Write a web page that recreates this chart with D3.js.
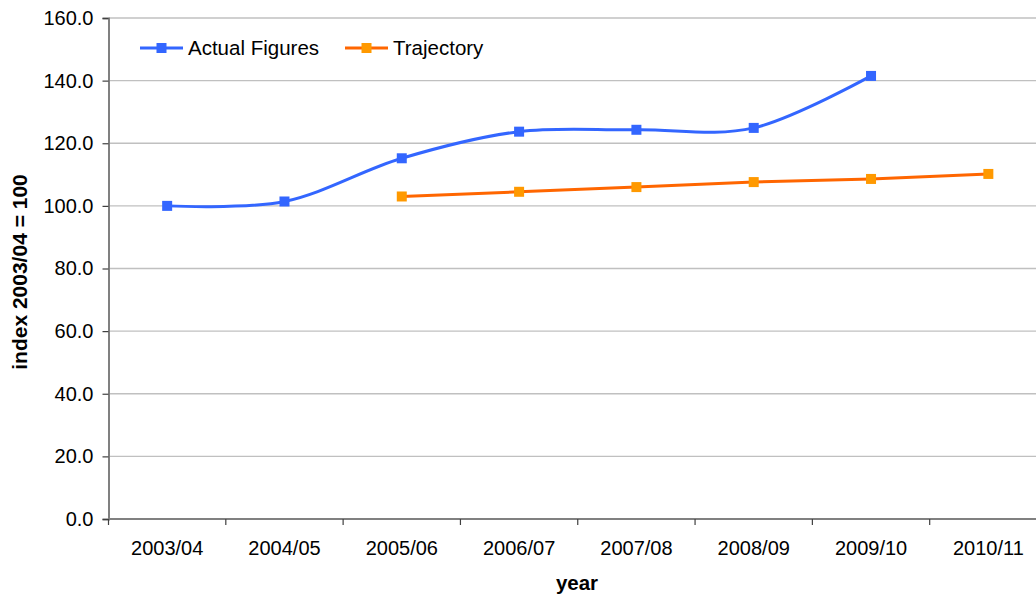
<!DOCTYPE html>
<html>
<head>
<meta charset="utf-8">
<script src="https://cdn.jsdelivr.net/npm/d3@7"></script>
<style>
html,body{margin:0;padding:0;background:#fff;overflow:hidden;}
svg{display:block;font-family:"Liberation Sans",Arial,sans-serif;}
</style>
</head>
<body>
<svg id="chart" width="1036" height="599"></svg>
<script>
const categories = ["2003/04","2004/05","2005/06","2006/07","2007/08","2008/09","2009/10","2010/11"];
const actualFigures = [100.0, 101.4, 115.2, 123.7, 124.3, 124.9, 141.5, null];
const trajectory = [null, null, 103.0, 104.5, 106.0, 107.6, 108.6, 110.2];
const yTicks = [0,20,40,60,80,100,120,140,160];
const seriesNames = ["Actual Figures","Trajectory"];

(function(){
const svg = d3.select("#chart");
const pL = 108.5, pR = 1047, pT = 18, pB = 519;

const x = d3.scaleBand().domain(categories).range([pL, pR]).paddingInner(0).paddingOuter(0);
const y = d3.scaleLinear().domain([0,160]).range([pB, pT]);

// gridlines
svg.append("g").selectAll("line").data(yTicks.filter(d=>d>0)).join("line")
  .attr("x1", pL).attr("x2", pR)
  .attr("y1", d=>y(d)).attr("y2", d=>y(d))
  .attr("stroke", "#c0c0c0").attr("stroke-width", 1.3);

// y axis
const yAxis = d3.axisLeft(y).tickValues(yTicks).tickFormat(d3.format(".1f")).tickSize(6).tickPadding(9);
const gy = svg.append("g").attr("transform", `translate(${pL},0)`).call(yAxis);
gy.select(".domain").attr("stroke","#808080").attr("stroke-width",2);
gy.selectAll(".tick line").attr("stroke","#404040").attr("stroke-width",1.2);
gy.selectAll(".tick text").attr("font-size","20px").attr("fill","#000").attr("font-family","Liberation Sans, Arial, sans-serif");

// x axis
const xTickScale = d3.scaleLinear().domain([0, categories.length]).range([pL, pR]);
const xAxis = d3.axisBottom(x).tickSize(0).tickPadding(22);
const gx = svg.append("g").attr("transform", `translate(0,${pB})`).call(xAxis);
gx.select(".domain").remove();
gx.selectAll(".tick text").attr("font-size","20px").attr("fill","#000").attr("font-family","Liberation Sans, Arial, sans-serif");
svg.append("line").attr("x1", pL).attr("x2", pR).attr("y1", pB).attr("y2", pB)
  .attr("stroke","#808080").attr("stroke-width",2);
svg.append("g").selectAll("line").data(d3.range(0, categories.length+1)).join("line")
  .attr("x1", d=>xTickScale(d)).attr("x2", d=>xTickScale(d))
  .attr("y1", pB).attr("y2", pB+6)
  .attr("stroke","#404040").attr("stroke-width",1.2);

// axis titles
svg.append("text").attr("x", 577).attr("y", 590).attr("text-anchor","middle")
  .attr("font-size","20.5px").attr("font-weight","bold").text("year");
svg.append("text").attr("transform","translate(27,272) rotate(-90)").attr("text-anchor","middle")
  .attr("font-size","21px").attr("font-weight","bold").text("index 2003/04 = 100");

const cx = c => x(c) + x.bandwidth()/2;

// series
const actualPts = categories.map((c,i)=>({c, v: actualFigures[i]})).filter(d=>d.v!=null);
const trajPts = categories.map((c,i)=>({c, v: trajectory[i]})).filter(d=>d.v!=null);

const smooth = d3.line().x(d=>cx(d.c)).y(d=>y(d.v)).curve(d3.curveCardinal.tension(0));
const straight = d3.line().x(d=>cx(d.c)).y(d=>y(d.v));

svg.append("path").datum(trajPts).attr("d", straight).attr("fill","none")
  .attr("stroke","#FF6600").attr("stroke-width",3);
svg.append("path").datum(actualPts).attr("d", smooth).attr("fill","none")
  .attr("stroke","#3366FF").attr("stroke-width",3);

const ms = 10;
svg.append("g").selectAll("rect").data(trajPts).join("rect")
  .attr("x", d=>cx(d.c)-ms/2).attr("y", d=>y(d.v)-ms/2).attr("width", ms).attr("height", ms)
  .attr("fill","#FF9900");
svg.append("g").selectAll("rect").data(actualPts).join("rect")
  .attr("x", d=>cx(d.c)-ms/2).attr("y", d=>y(d.v)-ms/2).attr("width", ms).attr("height", ms)
  .attr("fill","#3366FF");

// legend
const legend = [
  {name: seriesNames[0], line:"#3366FF", marker:"#3366FF", x:140},
  {name: seriesNames[1], line:"#FF6600", marker:"#FF9900", x:345}
];
const lg = svg.append("g").selectAll("g").data(legend).join("g")
  .attr("transform", d=>`translate(${d.x},48)`);
lg.append("line").attr("x1",0).attr("x2",43).attr("y1",0).attr("y2",0)
  .attr("stroke", d=>d.line).attr("stroke-width",3);
lg.append("rect").attr("x",21.5-ms/2).attr("y",-ms/2).attr("width",ms).attr("height",ms)
  .attr("fill", d=>d.marker);
lg.append("text").attr("x",48).attr("y",7).attr("font-size","20.5px").attr("fill","#000")
  .text(d=>d.name);
})();
</script>
</body>
</html>
